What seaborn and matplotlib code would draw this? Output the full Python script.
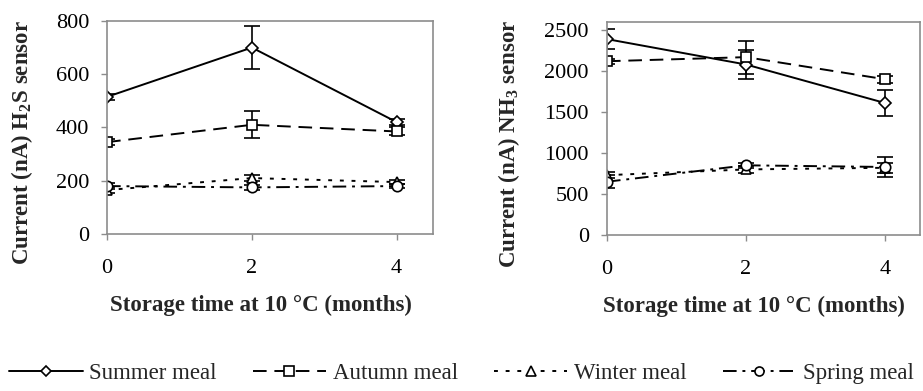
import matplotlib
matplotlib.use("Agg")
import matplotlib.pyplot as plt
import seaborn as sns
import pandas as pd
from matplotlib.lines import Line2D

sns.set_theme(style="white")
plt.rcParams['font.family'] = ['Liberation Serif', 'DejaVu Serif']
plt.rcParams['mathtext.fontset'] = 'custom'
plt.rcParams['mathtext.rm'] = 'Liberation Serif'
plt.rcParams['mathtext.bf'] = 'Liberation Serif:bold'

months = [0, 2, 4]
series = ["Summer meal", "Autumn meal", "Winter meal", "Spring meal"]

h2s_summer = [515, 700, 420]
h2s_autumn = [345, 410, 385]
h2s_winter = [165, 210, 195]
h2s_spring = [180, 175, 180]
h2s_summer_err = [12, 82, 10]
h2s_autumn_err = [12, 50, 15]
h2s_winter_err = [10, 12, 8]
h2s_spring_err = [10, 10, 8]

nh3_summer = [2390, 2080, 1610]
nh3_autumn = [2120, 2170, 1900]
nh3_winter = [730, 800, 820]
nh3_spring = [650, 850, 830]
nh3_summer_err = [125, 180, 160]
nh3_autumn_err = [30, 200, 40]
nh3_winter_err = [40, 40, 60]
nh3_spring_err = [80, 30, 120]

styles = {
    "Summer meal": dict(marker="D", dashes=(None, None), ms=6.5),
    "Autumn meal": dict(marker="s", dashes=(7, 4), ms=7.5),
    "Winter meal": dict(marker="^", dashes=(2, 4), ms=7.5),
    "Spring meal": dict(marker="o", dashes=(7, 3, 1.5, 3), ms=7.5),
}

def long_df(vals, errs):
    rows = []
    for name, v, e in zip(series, vals, errs):
        for m, y, er in zip(months, v, e):
            rows.append(dict(month=m, value=y, err=er, series=name))
    return pd.DataFrame(rows)

df_h2s = long_df([h2s_summer, h2s_autumn, h2s_winter, h2s_spring],
                 [h2s_summer_err, h2s_autumn_err, h2s_winter_err, h2s_spring_err])
df_nh3 = long_df([nh3_summer, nh3_autumn, nh3_winter, nh3_spring],
                 [nh3_summer_err, nh3_autumn_err, nh3_winter_err, nh3_spring_err])

fig = plt.figure(figsize=(9.23, 3.91), dpi=100)
ax1 = fig.add_axes([0.116, 0.4015, 0.353, 0.545])
ax2 = fig.add_axes([0.6576, 0.399, 0.339, 0.545])

def draw(ax, df, ylim, yticks, ylabel):
    for name in series:
        sub = df[df.series == name]
        st = styles[name]
        sns.lineplot(data=sub, x="month", y="value", ax=ax, color="black",
                     lw=1.4, marker=st["marker"], markersize=st["ms"],
                     markerfacecolor="white", markeredgecolor="black",
                     markeredgewidth=1.2, errorbar=None, legend=False)
        line = ax.lines[-1]
        if st["dashes"][0] is not None:
            line.set_dashes(st["dashes"])
        ax.errorbar(sub["month"], sub["value"], yerr=sub["err"], fmt="none",
                    ecolor="black", elinewidth=1.2, capsize=6, capthick=1.2, zorder=1)
    ax.set_xlim(0, 4.5)
    ax.set_ylim(*ylim)
    ax.set_xticks(months)
    ax.set_yticks(yticks)
    ax.set_xticklabels([str(m) for m in months], fontsize=16)
    ax.set_yticklabels([str(t) for t in yticks], fontsize=16)
    ax.set_xlabel("Storage time at 10 °C (months)", fontsize=16.5, fontweight="bold")
    ax.set_ylabel(ylabel, fontsize=16.5, fontweight="bold")
    for s in ax.spines.values():
        s.set_color("#8c8c8c")
        s.set_linewidth(1.2)
    ax.tick_params(axis="both", direction="out", length=4, width=1, color="#8c8c8c",
                   left=True, bottom=True, labelcolor="black")
    ax.tick_params(axis="x", pad=14)
    ax.tick_params(axis="y", pad=9)

draw(ax1, df_h2s, (0, 800), [0, 200, 400, 600, 800], r"Current (nA) H$_\mathbf{2}$S sensor")
draw(ax2, df_nh3, (0, 2600), [0, 500, 1000, 1500, 2000, 2500], r"Current (nA) NH$_\mathbf{3}$ sensor")
ax1.yaxis.set_label_coords(-0.22, 0.43)
ax2.yaxis.set_label_coords(-0.27, 0.43)
ax1.xaxis.set_label_coords(0.472, -0.285)
ax2.xaxis.set_label_coords(0.47, -0.285)

handles = []
for name in series:
    st = styles[name]
    h = Line2D([0], [0], color="black", lw=1.4, marker=st["marker"], markersize=st["ms"] - 1,
               markerfacecolor="white", markeredgecolor="black", markeredgewidth=1.2)
    if st["dashes"][0] is not None:
        h.set_dashes(st["dashes"])
    handles.append(h)

fig.legend(handles, series, loc="center", bbox_to_anchor=(0.0, 0.0, 1.0, 0.09),
           mode="expand", ncol=4, frameon=False, fontsize=16.5, handlelength=3.2,
           handletextpad=0.3, borderaxespad=0)

fig.savefig("out.png", dpi=100)
